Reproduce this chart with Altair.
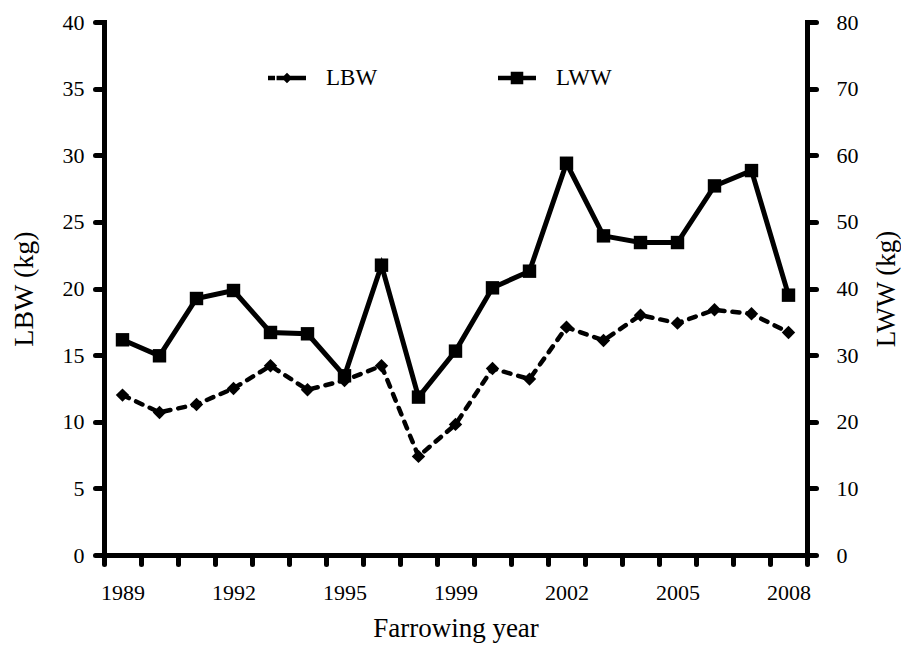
import altair as alt
import pandas as pd

# ---- data ----
years = ["1989", "1990", "1991", "1992", "1993", "1994", "1995", "1996", "1997",
         "1999", "2000", "2001", "2002", "2003", "2004", "2005", "2006", "2007", "2008"]
lbw = [12.0, 10.7, 11.3, 12.5, 14.2, 12.4, 13.1, 14.2, 7.4, 9.8,
       14.0, 13.2, 17.1, 16.1, 18.0, 17.4, 18.4, 18.1, 16.7]
lww = [32.3, 29.9, 38.5, 39.7, 33.4, 33.2, 26.9, 43.5, 23.7, 30.6,
       40.1, 42.6, 58.8, 47.9, 46.9, 46.9, 55.4, 57.7, 39.0]
tick_labels = ["1989", "1992", "1995", "1999", "2002", "2005", "2008"]
series_names = ["LBW", "LWW"]

df = pd.DataFrame({"year": years, "lbw": lbw, "lww": lww})
df["pos"] = [i + 0.5 for i in range(len(years))]

FONT = "Liberation Serif"
font_kw = dict(labelFont=FONT, titleFont=FONT, labelFontSize=22, titleFontSize=28,
               labelColor="black", titleColor="black", titleFontWeight="normal")

# x axis: ticks at category boundaries, labels at selected category centres
n = len(years)
tick_vals = [i / 2 for i in range(0, 2 * n + 1)]
label_expr = "".join(
    f"datum.value === {years.index(l) + 0.5} ? '{l}' : " for l in tick_labels
) + "''"

x_kw = dict(font_kw)
x_kw["titleFontSize"] = 27
x_enc = alt.X(
    "pos:Q",
    scale=alt.Scale(domain=[0, n], nice=False, zero=False),
    axis=alt.Axis(
        values=tick_vals,
        labelExpr=label_expr,
        labelOverlap=False,
        labelFlush=False,
        tickOpacity={"condition": {"test": "datum.value % 1 === 0", "value": 1}, "value": 0},
        title="Farrowing year",
        labelPadding=18,
        titlePadding=12,
        **x_kw,
    ),
)

y_left = alt.Y(
    "lbw:Q",
    scale=alt.Scale(domain=[0, 40], nice=False),
    axis=alt.Axis(values=list(range(0, 41, 5)), title="LBW (kg)", orient="left",
                  labelPadding=11, titlePadding=24, **font_kw),
)
right_kw = dict(font_kw)
right_kw["titleFontSize"] = 27
y_right = alt.Y(
    "lww:Q",
    scale=alt.Scale(domain=[0, 80], nice=False),
    axis=alt.Axis(values=list(range(0, 81, 10)), title="LWW (kg)", orient="right",
                  labelPadding=20, titlePadding=15, titleAngle=270, titleBaseline="top",
                  **right_kw),
)

base = alt.Chart(df)

lbw_line = base.mark_line(color="black", strokeWidth=4.5, strokeDash=[7, 8],
                          strokeCap="round").encode(x=x_enc, y=y_left)
lbw_pts = base.mark_point(shape="diamond", filled=True, color="black", opacity=1,
                          size=180).encode(x=x_enc, y=y_left)
lww_line = base.mark_line(color="black", strokeWidth=5).encode(x=x_enc, y=y_right)
lww_pts = base.mark_point(shape="square", filled=True, color="black", opacity=1,
                          size=180).encode(x=x_enc, y=y_right)

lbw_sym = ("M-1,-0.12H-0.63V0.12H-1Z M-0.55,-0.12H0V0.12H-0.55Z "
           "M0,-0.28L0.28,0L0,0.28L-0.28,0Z M0,-0.12H1V0.12H0Z")
lww_sym = "M-1,-0.12H1V0.12H-1Z M-0.33,-0.33H0.33V0.33H-0.33Z"

legend_df = pd.DataFrame({"series": series_names})
legend_layer = alt.Chart(legend_df).transform_filter("false").mark_point(
    filled=True, color="black", opacity=1
).encode(
    shape=alt.Shape(
        "series:N",
        scale=alt.Scale(domain=series_names, range=[lbw_sym, lww_sym]),
        legend=alt.Legend(
            title=None,
            orient="none",
            legendX=164,
            legendY=37,
            direction="horizontal",
            symbolSize=1444,
            symbolFillColor="black",
            symbolStrokeWidth=0,
            symbolOpacity=1,
            labelFont=FONT,
            labelFontSize=23,
            labelColor="black",
            labelOffset=20,
            columnPadding=120,
            padding=0,
        ),
    )
)

chart = alt.layer(
    alt.layer(lbw_line, lbw_pts),
    alt.layer(lww_line, lww_pts),
    legend_layer,
).resolve_scale(y="independent").properties(
    width=703,
    height=533,
    autosize=alt.AutoSizeParams(type="none"),
    padding={"left": 96, "top": 14, "right": 94, "bottom": 89},
).configure_axis(
    labelFont=FONT,
    titleFont=FONT,
    domainColor="black",
    domainWidth=5,
    domainCap="square",
    tickColor="black",
    tickWidth=5,
    tickSize=9,
    tickCap="round",
    grid=False,
).configure_view(stroke="transparent")

chart.save("out.html", embed_options={"renderer": "svg", "actions": False})
